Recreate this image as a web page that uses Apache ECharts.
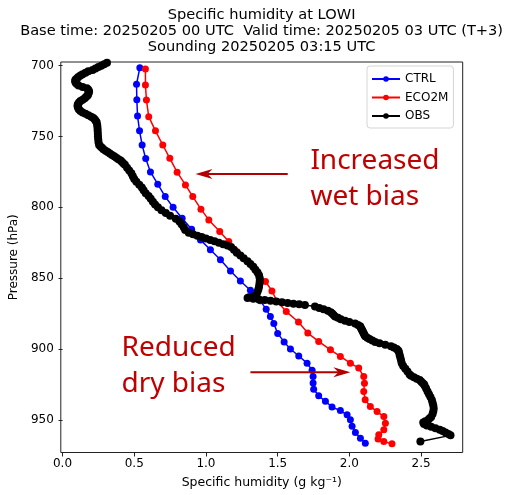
<!DOCTYPE html>
<html>
<head>
<meta charset="utf-8">
<script src="https://cdn.jsdelivr.net/npm/echarts@6/dist/echarts.min.js"></script>
<style>
  html, body { margin: 0; padding: 0; background: #fff; }
  #chart { width: 507px; height: 495px; }
</style>
</head>
<body>
<div id="chart"></div>
<script>
// Tick positions
const xTicks = [0.0, 0.5, 1.0, 1.5, 2.0, 2.5];
const yTicks = [700, 750, 800, 850, 900, 950];

// CTRL model profile: pressure (hPa) and specific humidity (g/kg)
const ctrlP = [701.4, 713.1, 724, 735.5, 746, 756, 765.6, 775, 783.7, 792.4, 800, 807.7, 815.5, 823, 830, 837,
  845, 852, 858.5, 866, 872, 877, 882, 889, 895, 900, 905, 910, 915, 919.5, 924, 928.5, 933, 937, 941,
  943.5, 946.5, 950, 954.5, 959, 963, 966.5];
const ctrlQ = [0.539, 0.516, 0.518, 0.523, 0.537, 0.555, 0.58, 0.613, 0.664, 0.716, 0.771, 0.834, 0.90, 0.962, 1.031, 1.101,
  1.171, 1.24, 1.31, 1.38, 1.42, 1.449, 1.473, 1.50, 1.545, 1.589, 1.647, 1.705, 1.74, 1.747, 1.747, 1.751, 1.786, 1.833, 1.879,
  1.937, 1.984, 2.007, 2.019, 2.042, 2.077, 2.111];

// ECO2M model profile
const eco2mP = [702.3, 713.6, 724.2, 736, 746, 756, 765.4, 775.2, 784.2, 792.4, 801.3, 808.9, 817.1, 824.2, 831.3, 838.3,
  845.4, 852.4, 859, 866.5, 873.6, 881, 888.8, 894.7, 900.6, 905.3, 910, 913.5, 919.5, 924.2, 930, 935.9, 940.6,
  944.2, 947.7, 952.4, 957.1, 960.6, 963.5, 965.3, 967];
const eco2mQ = [0.578, 0.578, 0.585, 0.601, 0.648, 0.699, 0.748, 0.799, 0.857, 0.908, 0.965, 1.02, 1.096, 1.159, 1.217, 1.287,
  1.357, 1.415, 1.46, 1.496, 1.56, 1.645, 1.71, 1.786, 1.868, 1.937, 2.007, 2.065, 2.1, 2.105, 2.1, 2.11, 2.146,
  2.193, 2.24, 2.251, 2.24, 2.205, 2.2, 2.24, 2.297];

// Radiosonde observation
const obsP = [698, 699, 700, 701, 702, 703, 704, 705, 706, 707, 708, 709, 710, 711, 712, 713, 714, 715, 716, 717, 718, 719,
  720, 721, 722, 723, 724, 725, 726, 727, 728, 729, 730, 731, 732, 733, 734, 735, 736, 737, 738, 739, 740, 742, 744,
  746, 748, 750, 752, 754, 756, 757, 758, 759, 760, 761, 762, 763, 764, 765, 766, 767, 768, 769, 770, 772, 774, 776,
  778, 780, 782, 784, 786, 788, 790, 792, 794, 796, 798, 800, 802, 804, 806, 808, 810, 812, 814, 816, 818, 819, 820,
  821, 822, 823, 824, 825, 826, 827, 828, 830, 832, 834, 836, 838, 840, 842, 844, 846, 848, 850, 852, 854, 856, 858,
  860, 862, 863, 863.5, 864, 864.5, 865, 865.5, 866, 866.5, 867, 867.5, 868, 868.5, 869, 870, 871, 872, 873, 874, 875,
  876, 877, 878, 879, 880, 881, 882, 883, 884, 885, 886, 887, 888, 889, 890, 891, 892, 893, 894, 895, 896, 897, 898,
  899, 900, 901, 902, 904, 906, 908, 910, 912, 914, 916, 918, 919, 920, 921, 922, 923, 924, 925, 926, 928, 930, 932,
  934, 936, 938, 940, 942, 944, 946, 948, 949, 950, 951, 952, 953, 954, 955, 956, 957, 958, 959, 960, 961, 965.3];
const obsQ = [0.31, 0.29, 0.27, 0.25, 0.23, 0.21, 0.18, 0.16, 0.14, 0.125, 0.11, 0.10, 0.09, 0.088, 0.092, 0.10, 0.112, 0.14,
  0.17, 0.18, 0.185, 0.183, 0.18, 0.175, 0.165, 0.155, 0.14, 0.125, 0.115, 0.108, 0.105, 0.106, 0.11, 0.115, 0.125, 0.14,
  0.16, 0.18, 0.2, 0.215, 0.225, 0.232, 0.238, 0.242, 0.244, 0.245, 0.246, 0.247, 0.249, 0.251, 0.255, 0.265, 0.275,
  0.285, 0.3, 0.315, 0.33, 0.345, 0.36, 0.375, 0.39, 0.405, 0.415, 0.425, 0.435, 0.45, 0.465, 0.48, 0.49, 0.5, 0.515,
  0.535, 0.553, 0.565, 0.58, 0.6, 0.615, 0.63, 0.645, 0.665, 0.69, 0.72, 0.75, 0.79, 0.815, 0.83, 0.845, 0.855, 0.88,
  0.91, 0.94, 0.97, 1.0, 1.03, 1.06, 1.09, 1.12, 1.15, 1.175, 1.195, 1.215, 1.24, 1.263, 1.29, 1.31, 1.33, 1.345, 1.36,
  1.37, 1.375, 1.375, 1.373, 1.37, 1.365, 1.358, 1.35, 1.33, 1.30, 1.29, 1.33, 1.37, 1.41, 1.45, 1.49, 1.53, 1.57, 1.61,
  1.65, 1.69, 1.76, 1.79, 1.82, 1.85, 1.87, 1.88, 1.89, 1.9, 1.92, 1.94, 1.97, 2.0, 2.04, 2.06, 2.075, 2.08, 2.085, 2.09,
  2.095, 2.1, 2.105, 2.11, 2.125, 2.14, 2.16, 2.18, 2.21, 2.25, 2.29, 2.31, 2.33, 2.34, 2.345, 2.35, 2.355, 2.36, 2.365,
  2.375, 2.39, 2.405, 2.42, 2.43, 2.45, 2.47, 2.49, 2.5, 2.51, 2.52, 2.525, 2.535, 2.545, 2.555, 2.565, 2.575, 2.58,
  2.585, 2.588, 2.585, 2.58, 2.57, 2.56, 2.55, 2.53, 2.515, 2.52, 2.54, 2.57, 2.6, 2.63, 2.65, 2.67, 2.69, 2.705, 2.495];

const pairs = (q, p) => q.map((v, i) => [v, p[i]]);

const FONT = 'DejaVu Sans';
const NOTE_COLOR = '#c00000';
const ARROW_COLOR = '#b00000';

const chart = echarts.init(document.getElementById('chart'), null, { renderer: 'canvas' });

function lineSeries(name, color, data, size) {
  return {
    name: name,
    type: 'line',
    data: data,
    symbol: 'circle',
    symbolSize: size,
    showAllSymbol: true,
    animation: false,
    lineStyle: { color: color, width: 1.5 },
    itemStyle: { color: color },
    emphasis: { disabled: true },
    z: 2
  };
}

const option = {
  animation: false,
  backgroundColor: '#fff',
  title: {
    text: 'Specific humidity at LOWI\nBase time: 20250205 00 UTC  Valid time: 20250205 03 UTC (T+3)\nSounding 20250205 03:15 UTC',
    left: 261.6,
    top: 7,
    textAlign: 'center',
    padding: 0,
    textStyle: { fontFamily: FONT, fontSize: 14.6, fontWeight: 'normal', color: '#000', lineHeight: 16 }
  },
  grid: {
    left: 60.5, right: 44.3, top: 62, bottom: 42.5,
    show: true, borderColor: '#222', borderWidth: 1, backgroundColor: 'transparent'
  },
  legend: {
    orient: 'vertical',
    left: 367,
    top: 66,
    padding: [6, 5, 5, 4],
    itemWidth: 28,
    itemHeight: 7,
    itemGap: 4.5,
    backgroundColor: '#fff',
    borderColor: '#d5d5d5',
    borderWidth: 1,
    borderRadius: 3,
    textStyle: { fontFamily: FONT, fontSize: 12, color: '#000', lineHeight: 14 },
    data: ['CTRL', 'ECO2M', 'OBS']
  },
  xAxis: {
    type: 'value',
    min: -0.012,
    max: 2.79,
    name: 'Specific humidity (g kg\u207B\u00B9)',
    nameLocation: 'middle',
    nameGap: 24,
    nameTextStyle: { fontFamily: FONT, fontSize: 12.5, color: '#000' },
    axisLine: { show: false },
    splitLine: { show: false },
    axisTick: { show: true, length: 4, customValues: xTicks, lineStyle: { color: '#222', width: 1 } },
    axisLabel: {
      show: true, margin: 5, customValues: xTicks,
      fontFamily: FONT, fontSize: 12, color: '#000',
      formatter: v => Number(v).toFixed(1)
    }
  },
  yAxis: {
    type: 'value',
    inverse: true,
    min: 697.4,
    max: 973.1,
    name: 'Pressure (hPa)',
    nameLocation: 'middle',
    nameGap: 35,
    nameTextStyle: { fontFamily: FONT, fontSize: 12, color: '#000' },
    axisLine: { show: false },
    splitLine: { show: false },
    axisTick: { show: true, length: 4, customValues: yTicks, lineStyle: { color: '#222', width: 1 } },
    axisLabel: {
      show: true, margin: 7, customValues: yTicks,
      fontFamily: FONT, fontSize: 12, color: '#000',
      formatter: v => String(Math.round(v))
    }
  },
  series: [
    lineSeries('CTRL', '#0000ff', pairs(ctrlQ, ctrlP), 7),
    lineSeries('ECO2M', '#ff0000', pairs(eco2mQ, eco2mP), 7),
    lineSeries('OBS', '#000000', pairs(obsQ, obsP), 8)
  ]
};

chart.setOption(option);

// Annotations: text and arrows anchored in data space
const notes = [
  { lines: ['Increased', 'wet bias'], at: [1.728, 767.2] },
  { lines: ['Reduced', 'dry bias'], at: [0.411, 899.4] }
];
const arrows = [
  { from: [1.57, 776.4], to: [0.927, 776.4] },
  { from: [1.31, 916.4], to: [2.007, 916.4] }
];

const px = d => chart.convertToPixel({ xAxisIndex: 0, yAxisIndex: 0 }, d);
const elements = [];
notes.forEach(n => {
  const p = px(n.at);
  n.lines.forEach((t, i) => {
    elements.push({
      type: 'text', x: p[0], y: p[1] + i * 36, z: 10,
      style: { text: t, fill: NOTE_COLOR, font: '28px "Noto Sans"', textAlign: 'left', textVerticalAlign: 'middle' }
    });
  });
});
arrows.forEach(a => {
  const s = px(a.from), e = px(a.to);
  const dir = Math.sign(e[0] - s[0]);
  const len = 17, half = 5, notch = 12;
  elements.push({
    type: 'line', z: 10,
    shape: { x1: s[0], y1: s[1], x2: e[0] - dir * notch, y2: e[1] },
    style: { stroke: ARROW_COLOR, lineWidth: 2 }
  });
  elements.push({
    type: 'polygon', z: 10,
    shape: { points: [
      [e[0], e[1]],
      [e[0] - dir * len, e[1] - half],
      [e[0] - dir * notch, e[1]],
      [e[0] - dir * len, e[1] + half]
    ] },
    style: { fill: ARROW_COLOR }
  });
});
chart.setOption({ graphic: { elements: elements } });
</script>
</body>
</html>
